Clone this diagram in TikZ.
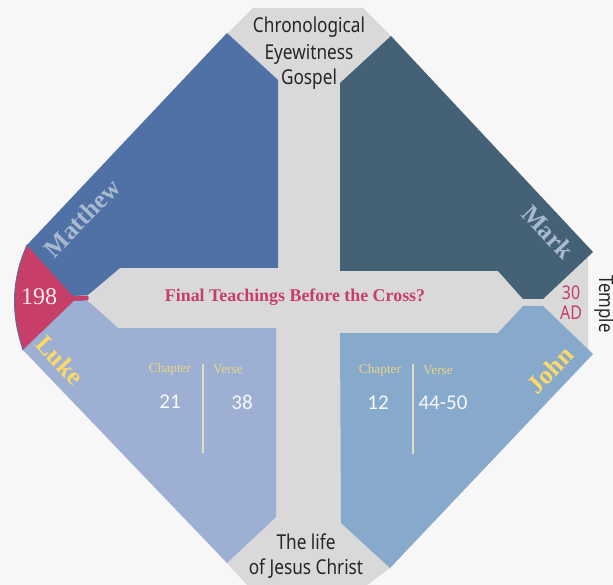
\documentclass[tikz,border=0pt]{standalone}
\usepackage{fontspec}
\setmainfont{Liberation Serif}
\newfontfamily\condf[FakeStretch=0.84]{Noto Sans}
\newfontfamily\calf{Carlito}
\definecolor{bgc}{HTML}{F7F7F7}
\definecolor{greyc}{HTML}{D9D9D9}
\definecolor{matc}{HTML}{4F71A6}
\definecolor{markc}{HTML}{456176}
\definecolor{johnc}{HTML}{87A9CC}
\definecolor{lukec}{HTML}{9DAFD3}
\definecolor{redc}{HTML}{C73E68}
\definecolor{paleb}{HTML}{A9B9CE}
\definecolor{yel}{HTML}{FFD966}
\definecolor{chap}{HTML}{E9D588}
\definecolor{rulec}{HTML}{E3DCC0}
\tikzset{
  x=1pt,y=-1pt,
  panel/.style={draw=none},
  caption/.style={inner sep=0pt,text=black!85,font=\condf\fontsize{20.5}{24}\selectfont},
  evang/.style={inner sep=0pt,font=\bfseries\fontsize{25.5}{28}\selectfont},
  small/.style={inner sep=0pt,text=chap,font=\fontsize{13.3}{15}\selectfont},
  num/.style={inner sep=0pt,text=white!92!lukec,font=\calf\fontsize{21}{25}\selectfont},
  divider/.style={draw=rulec,line width=1.4pt},
}
\begin{document}
\begin{tikzpicture}
\useasboundingbox (0,0) rectangle (613,585);
\fill[bgc] (0,0) rectangle (613,585);
% grey cross
\fill[greyc,panel] (253,8) -- (363,8) -- (391,36) -- (588,250) -- (588,350) -- (390,568) -- (367,585) -- (247,585) -- (227,563) -- (88,298) -- (228,33) -- cycle;
% red cap
\fill[redc,draw=matc,line width=.8pt] (27,245) .. controls (11,280) and (11,315) .. (23,350) -- (74,301) -- (88,300) -- (88,296) -- (73,296) -- cycle;
\fill[redc] (27,245) -- (73,296) -- (88,296) -- (88,300) -- (74,301) -- (23,350) -- cycle;
% panels
\fill[matc,panel] (227,33) -- (278,80) -- (278,268) -- (120,268) -- (88,295) -- (73,296) -- (27,245) -- cycle;
\fill[markc,panel] (391,36) -- (340,83) -- (340,271) -- (498,271) -- (523,299) -- (543,299) -- (593,252) -- cycle;
\fill[johnc,panel] (340,333) -- (498,333) -- (523,306) -- (543,306) -- (593,354) -- (390,568) -- (341,523) -- cycle;
\fill[lukec,panel] (74,301) -- (88,301) -- (118,328) -- (276,328) -- (276,517) -- (227,563) -- (23,350) -- cycle;
% labels
\node[caption] (t1) at (309,27) {Chronological};
\node[caption] (t2) at (309,54) {Eyewitness};
\node[caption] (t3) at (309,79.5) {Gospel};
\node[caption] (b1) at (306,542) {The life};
\node[caption] (b2) at (306,569) {of Jesus Christ};
\node[evang,text=paleb,rotate=46] (matthew) at (82,218) {Matthew};
\node[evang,text=paleb,rotate=-46] (mark) at (548,232) {Mark};
\node[evang,text=yel,rotate=-47] (luke) at (60,360) {Luke};
\node[evang,text=yel,rotate=46] (john) at (550,370) {John};
\node[inner sep=0pt,text=white!90!redc,font=\fontsize{24}{26}\selectfont] (n198) at (39,297) {198};
\node[inner sep=0pt,text=redc,font=\bfseries\fontsize{17.9}{22}\selectfont] (final) at (295,297.5) {Final Teachings Before the Cross?};
\node[inner sep=0pt,text=redc,font=\condf\fontsize{19}{22}\selectfont] (n30) at (571,293) {30};
\node[inner sep=0pt,text=redc,font=\condf\fontsize{19}{22}\selectfont] (ad) at (571,313) {AD};
\node[inner sep=0pt,rotate=-90,text=black!85,font=\condf\fontsize{20}{22}\selectfont] (temple) at (605,304) {Temple};
\node[small] (c1) at (170,369) {Chapter};
\node[small] (v1) at (228,369) {Verse};
\node[small] (c2) at (380,370) {Chapter};
\node[small] (v2) at (438,370) {Verse};
\node[num] (a1) at (170,402) {21};
\node[num] (a2) at (242,402) {38};
\node[num] (a3) at (378,403) {12};
\node[num] (a4) at (443,403) {44-50};
\coordinate (l1a) at (203,364); \coordinate (l1b) at (203,453);
\coordinate (l2a) at (413,364); \coordinate (l2b) at (413,454);
\draw[divider] (l1a) -- (l1b);
\draw[divider] (l2a) -- (l2b);
\end{tikzpicture}
\end{document}
